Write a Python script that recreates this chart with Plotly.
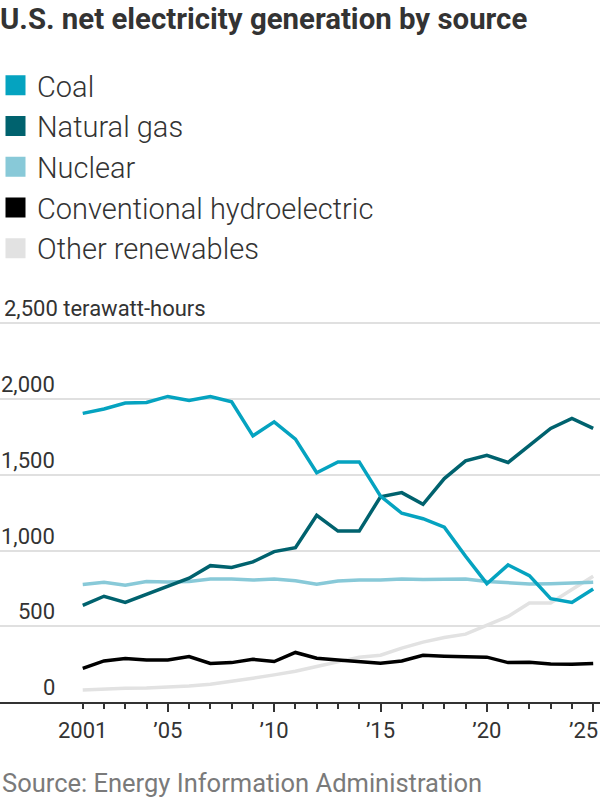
import plotly.graph_objects as go

# values, terawatt-hours
years = list(range(2001, 2026))
coal = [1905, 1934, 1973, 1977, 2017, 1990, 2017, 1982, 1757, 1849, 1735, 1513, 1585,
        1585, 1359, 1246, 1210, 1154, 962, 781, 905, 834, 682, 657, 746]
natural_gas = [638, 698, 658, 713, 764, 817, 900, 888, 925, 993, 1018, 1232, 1128,
               1128, 1355, 1382, 1305, 1475, 1592, 1629, 1581, 1691, 1806, 1872, 1806]
nuclear = [775, 790, 771, 796, 792, 796, 812, 812, 805, 812, 801, 777, 798,
           805, 805, 812, 809, 810, 812, 796, 785, 779, 781, 787, 790]
hydro = [222, 271, 287, 278, 278, 300, 254, 260, 282, 267, 327, 289, 278,
         269, 256, 271, 308, 302, 300, 296, 260, 262, 251, 249, 254]
other_renewables = [79, 86, 90, 92, 97, 106, 117, 135, 157, 179, 203, 234, 267,
                    296, 309, 356, 395, 426, 448, 505, 565, 653, 653, 742, 830]

series_names = ["Coal", "Natural gas", "Nuclear", "Conventional hydroelectric", "Other renewables"]
series_values = [coal, natural_gas, nuclear, hydro, other_renewables]
colors = ["#05a3c0", "#00626e", "#88c9d8", "#000000", "#e2e2e2"]

y_ticks = [0, 500, 1000, 1500, 2000, 2500]
y_labels = ["0", "500", "1,000", "1,500", "2,000", "2,500 terawatt-hours"]
x_ticks = [2001, 2005, 2010, 2015, 2020, 2025]
x_labels = ["2001", "\u201905", "\u201910", "\u201915", "\u201920", "\u201925"]
x_major = [2005, 2010, 2015, 2020, 2025]

FONT = "Roboto"
TEXT = "#333333"
X_RANGE = [1997.11, 2025.32]

fig = go.Figure()

# lines, drawn bottom-up so coal ends on top
for name, vals, col in reversed(list(zip(series_names, series_values, colors))):
    fig.add_trace(go.Scatter(x=years, y=vals, mode="lines", name=name,
                             line=dict(color=col, width=3.5), showlegend=False,
                             hoverinfo="skip"))

# square legend keys
for name, col in zip(series_names, colors):
    fig.add_trace(go.Scatter(x=[None], y=[None], mode="markers", name=name,
                             marker=dict(symbol="square", size=16, color=col,
                                         line=dict(color=col, width=4))))

# invisible trace so the second x axis is drawn
fig.add_trace(go.Scatter(x=[None], y=[None], xaxis="x2", showlegend=False, hoverinfo="skip"))

annotations = []
for v, lab in zip(y_ticks, y_labels):
    left = v == 2500
    annotations.append(dict(x=0.003 if left else 57 / 600, xref="paper",
                            xanchor="left" if left else "right",
                            y=v, yref="y", yanchor="bottom", text=lab, showarrow=False,
                            font=dict(family=FONT, size=22, color=TEXT)))

# last year label sits flush with the right edge, like the original
annotations.append(dict(x=1, xref="paper", xanchor="right", y=-0.0735, yref="paper",
                        yanchor="middle", text=x_labels[-1], showarrow=False,
                        font=dict(family=FONT, size=22, color=TEXT)))

annotations.append(dict(x=0, xref="paper", xanchor="left", y=-0.2126, yref="paper",
                        yanchor="middle", text="Source: Energy Information Administration",
                        showarrow=False, font=dict(family=FONT, size=25.5, color="#7a7a7a")))

fig.update_layout(
    width=600, height=800,
    margin=dict(l=0, r=0, t=321, b=98, autoexpand=False),
    paper_bgcolor="white", plot_bgcolor="white",
    title=dict(text="<b>U.S. net electricity generation by source</b>",
               x=0, xref="paper", xanchor="left",
               y=1 - 19 / 800, yref="container", yanchor="middle",
               font=dict(family=FONT, size=29.4, color=TEXT)),
    showlegend=True,
    legend=dict(x=-0.01, xanchor="left", y=1.685, yanchor="top",
                font=dict(family=FONT, size=29, color=TEXT, weight=300),
                bgcolor="rgba(0,0,0,0)", tracegroupgap=0, itemclick=False,
                itemwidth=33),
    annotations=annotations,
    xaxis=dict(range=X_RANGE, showgrid=False, zeroline=False, automargin=False,
               showline=True, linecolor=TEXT, linewidth=2,
               tickmode="array", tickvals=x_ticks, ticktext=x_labels[:-1] + [""],
               ticks="outside", ticklen=5, tickwidth=2, tickcolor=TEXT,
               ticklabelstandoff=3,
               minor=dict(tickmode="array", tickvals=years, ticks="outside",
                          ticklen=5, tickwidth=2, tickcolor=TEXT),
               tickfont=dict(family=FONT, size=22, color=TEXT)),
    # second x axis only to draw the longer five-year ticks
    xaxis2=dict(range=X_RANGE, overlaying="x", side="bottom", anchor="y",
                showgrid=False, zeroline=False, automargin=False, showline=False,
                tickmode="array", tickvals=x_major, showticklabels=False,
                ticks="outside", ticklen=9, tickwidth=2, tickcolor=TEXT),
    yaxis=dict(range=[0, 2515], tickmode="array", tickvals=y_ticks, automargin=False,
               showticklabels=False, showgrid=True, gridcolor="#e0e0e0",
               gridwidth=2, zeroline=False, showline=False),
)

# the page's default body margin would push the 600x800 figure out of the window
fig.write_html("out.html", config={"displayModeBar": False},
               post_script="document.body.style.margin = '0';")
